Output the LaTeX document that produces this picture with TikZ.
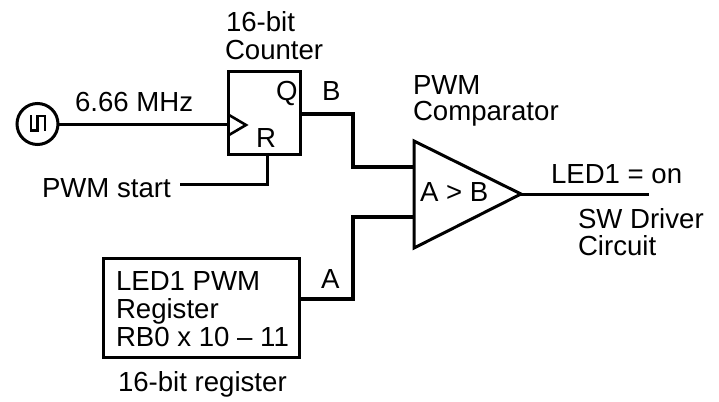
\documentclass[tikz,border=0pt]{standalone}
\usepackage{fontspec}
\setmainfont{Liberation Sans}
\tikzset{
 x=1pt,y=-1pt,
 wire/.style={line width=3pt,line join=miter},
 bus/.style={line width=4pt,line join=miter},
 shp/.style={draw,line width=3pt,fill=white,inner sep=0pt,outer sep=0pt},
 lbl/.style={inner sep=0pt,outer sep=0pt,align=left,font=\fontsize{27.6}{28}\selectfont,anchor=base west},
}
\begin{document}
\begin{tikzpicture}
\useasboundingbox (0,0) rectangle (719,401);
\fill[white] (0,0) rectangle (719,401);
% shapes
\node[shp,circle,minimum size=41pt] (osc) at (37.5,124) {};
\node[shp,rectangle,minimum width=71.5pt,minimum height=82pt] (cnt) at (264.25,113) {};
\node[shp,rectangle,minimum width=196pt,minimum height=99pt] (reg) at (201,307.5) {};
\coordinate (cmpT) at (414,141);
\coordinate (cmpB) at (414,248);
\coordinate (cmpO) at (521,194);
\draw[line width=3pt,line join=miter,fill=white] (cmpT) -- (cmpO) -- (cmpB) -- cycle;
\coordinate (clkT) at (229,115);
\coordinate (clkB) at (229,135);
\coordinate (clkO) at (246,125);
\draw[line width=2.6pt,line join=miter] (clkT) -- (clkO) -- (clkB);
% pulse
\draw[line width=2.4pt,line join=miter] (31,115) -- (31,130.5) -- (37.5,130.5) -- (37.5,116) -- (45,116) -- (45,131);
% wires
\coordinate (clkin) at (229,124);
\coordinate (q) at (300,114);
\coordinate (qa) at (353,114);
\coordinate (qb) at (353,167);
\coordinate (cmpa) at (414,167);
\coordinate (cmpc) at (414,217);
\coordinate (ra) at (353,217);
\coordinate (rb) at (353,299);
\coordinate (rc) at (299,299);
\coordinate (rst) at (267,154);
\coordinate (rstb) at (267,184);
\coordinate (rstc) at (180,184);
\coordinate (out) at (649,194);
\draw[wire] (osc.east) -- (clkin);
\draw[bus] (q) -- (qa) -- (qb) -- (cmpa);
\draw[bus] (rc) -- (rb) -- (ra) -- (cmpc);
\draw[wire] (rst) -- (rstb) -- (rstc);
\draw[wire] (cmpO) -- (out);
% labels
\node[lbl] (t1) at (226,32) {16-bit};
\node[lbl] (t2) at (225,60) {Counter};
\node[lbl] (t3) at (75,111) {6.66 MHz};
\node[lbl] (t4) at (276,100) {Q};
\node[lbl] (t5) at (322,100) {B};
\node[lbl] (t6) at (256,147) {R};
\node[lbl] (t7) at (42,197) {PWM start};
\node[lbl] (t8) at (413,95) {PWM};
\node[lbl] (t9) at (413,121) {Comparator};
\node[lbl] (t10) at (420,201) {A > B};
\node[lbl] (t11) at (551,183) {LED1 = on};
\node[lbl] (t12) at (578,228) {SW Driver};
\node[lbl] (t13) at (578,255) {Circuit};
\node[lbl] (t14) at (116,290) {LED1 PWM};
\node[lbl] (t15) at (116,318) {Register};
\node[lbl] (t16) at (116,346) {RB0 x 10 – 11};
\node[lbl] (t17) at (321,288) {A};
\node[lbl] (t18) at (118,391) {16-bit register};
\end{tikzpicture}
\end{document}
